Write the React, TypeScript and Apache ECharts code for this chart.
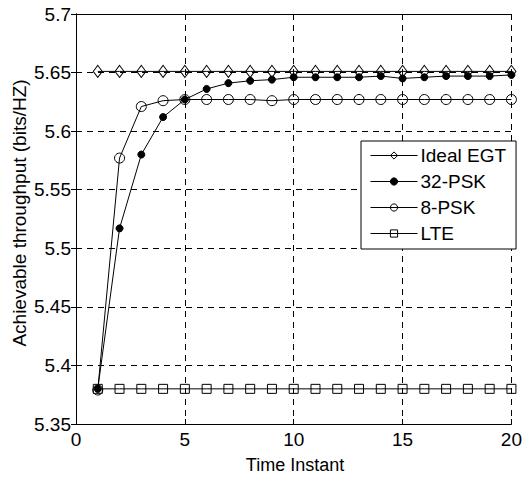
import React, { useEffect, useRef } from "react";
import * as echarts from "echarts";

const timeInstants = [1, 2, 3, 4, 5, 6, 7, 8, 9, 10, 11, 12, 13, 14, 15, 16, 17, 18, 19, 20];
const idealEGT = [5.651, 5.651, 5.651, 5.651, 5.651, 5.651, 5.651, 5.651, 5.651, 5.651, 5.651, 5.651, 5.651, 5.651, 5.651, 5.651, 5.651, 5.651, 5.651, 5.651];
const psk32 = [5.38, 5.517, 5.58, 5.612, 5.627, 5.636, 5.641, 5.643, 5.644, 5.646, 5.646, 5.646, 5.646, 5.647, 5.645, 5.646, 5.647, 5.647, 5.647, 5.648];
const psk8 = [5.379, 5.577, 5.621, 5.626, 5.627, 5.627, 5.627, 5.627, 5.626, 5.627, 5.627, 5.627, 5.627, 5.627, 5.627, 5.627, 5.627, 5.627, 5.627, 5.627];
const lte = [5.38, 5.38, 5.38, 5.38, 5.38, 5.38, 5.38, 5.38, 5.38, 5.38, 5.38, 5.38, 5.38, 5.38, 5.38, 5.38, 5.38, 5.38, 5.38, 5.38];
const seriesNames = ["Ideal EGT", "32-PSK", "8-PSK", "LTE"];
const xTitle = "Time Instant";
const yTitle = "Achievable throughput (bits/HZ)";

const FONT = "'Liberation Sans', Arial, Helvetica, sans-serif";

export default function App() {
  const ref = useRef<HTMLDivElement>(null);
  useEffect(() => {
    document.body.style.margin = "0";
    const chart = echarts.init(ref.current!, null, { renderer: "svg" });
    const pair = (ys: number[]) => timeInstants.map((x, i) => [x, ys[i]]);
    const baseSeries = (name: string, ys: number[], symbol: string, size: any, filled: boolean) => ({
      name,
      type: "line",
      data: pair(ys),
      symbol,
      symbolSize: size,
      showAllSymbol: true,
      lineStyle: { color: "#000", width: 1 },
      itemStyle: {
        color: filled ? "#000" : "rgba(255,255,255,0)",
        borderColor: "#000",
        borderWidth: 1,
      },
      emphasis: { disabled: true },
      z: 3,
    });
    const tickAxisCommon = {
      type: "value",
      axisLine: { show: true, lineStyle: { color: "#000", width: 1 } },
      axisTick: { show: true, inside: true, length: 5, lineStyle: { color: "#000" } },
    };
    chart.setOption({
      animation: false,
      backgroundColor: "#fff",
      textStyle: { fontFamily: FONT },
      grid: { left: 76, right: 10, top: 14, bottom: 54, containLabel: false },
      xAxis: [
        {
          ...tickAxisCommon,
          position: "bottom",
          min: 0,
          max: 20,
          interval: 5,
          axisLabel: { show: true, color: "#000", fontSize: 19, margin: 6, fontFamily: FONT },
          splitLine: { show: true, lineStyle: { color: "#000", type: [6, 5], width: 1 } },
        },
        {
          ...tickAxisCommon,
          position: "top",
          min: 0,
          max: 20,
          interval: 5,
          axisLabel: { show: false },
          splitLine: { show: false },
        },
      ],
      yAxis: [
        {
          ...tickAxisCommon,
          position: "left",
          min: 5.35,
          max: 5.7,
          interval: 0.05,
          axisLabel: {
            show: true,
            color: "#000",
            fontSize: 19,
            margin: 5,
            fontFamily: FONT,
            formatter: (v: number) => String(Math.round(v * 100) / 100),
          },
          splitLine: { show: true, lineStyle: { color: "#000", type: [6, 5], width: 1 } },
        },
        {
          ...tickAxisCommon,
          position: "right",
          min: 5.35,
          max: 5.7,
          interval: 0.05,
          axisLabel: { show: false },
          splitLine: { show: false },
        },
      ],
      legend: {
        orient: "vertical",
        left: 361,
        top: 141,
        data: seriesNames,
        backgroundColor: "#fff",
        borderColor: "#000",
        borderWidth: 1,
        borderRadius: 0,
        padding: [5, 10, 6, 9],
        itemWidth: 47,
        itemHeight: 9,
        itemGap: 7,
        lineStyle: { width: 1, color: "#000" },
        itemStyle: { borderWidth: 1 },
        textStyle: { fontSize: 19, color: "#000", fontFamily: FONT, padding: [0, 0, 0, -2] },
        selectedMode: false,
      },
      graphic: [
        {
          type: "text",
          x: 295,
          y: 465,
          style: { text: xTitle, fontSize: 18, fontFamily: FONT, fill: "#000", align: "center", verticalAlign: "middle" },
        },
        {
          type: "text",
          x: 19,
          y: 213,
          rotation: Math.PI / 2,
          style: { text: yTitle, fontSize: 19, fontFamily: FONT, fill: "#000", align: "center", verticalAlign: "middle" },
        },
      ],
      series: [
        baseSeries(seriesNames[0], idealEGT, "diamond", [9, 12], false),
        baseSeries(seriesNames[1], psk32, "circle", 7, true),
        baseSeries(seriesNames[2], psk8, "circle", 10, false),
        baseSeries(seriesNames[3], lte, "rect", 9, false),
      ],
    });
    return () => chart.dispose();
  }, []);
  return <div ref={ref} style={{ width: 525, height: 478 }} />;
}
